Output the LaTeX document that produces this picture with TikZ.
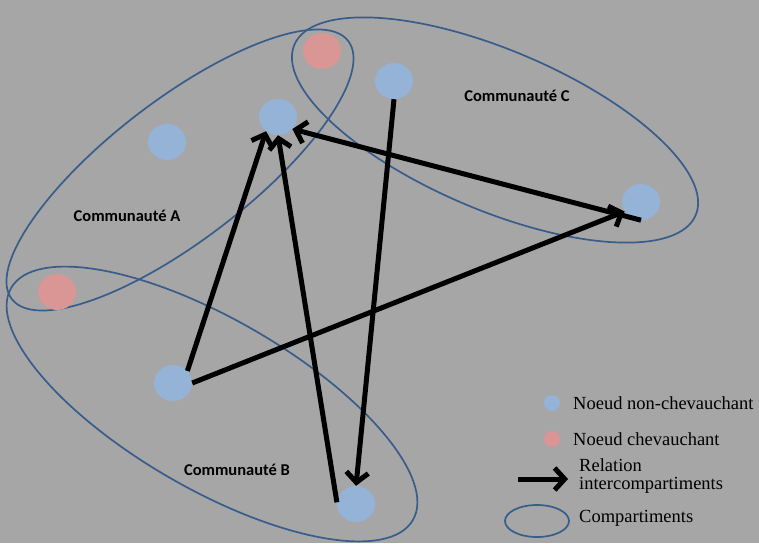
\documentclass[tikz,border=0pt]{standalone}
\usepackage{fontspec}
\setmainfont{Liberation Serif}
\newfontfamily\calib{Carlito}
\usetikzlibrary{arrows.meta,shapes.geometric}
\definecolor{fond}{HTML}{A6A6A6}
\definecolor{bleu}{HTML}{95B3D7}
\definecolor{rouge}{HTML}{D99694}
\definecolor{trait}{HTML}{385D8A}
\begin{document}
\begin{tikzpicture}[x=1pt,y=-1pt,line join=miter,
    noeud/.style={ellipse,fill=bleu,minimum width=38pt,minimum height=36pt,inner sep=0pt},
    chev/.style={noeud,fill=rouge},
    rel/.style={line width=5pt,-{Straight Barb[length=10pt,width=22pt]}},
    compart/.style={draw=trait,line width=1.7pt},
    comm/.style={font=\calib\bfseries\fontsize{16.5}{18}\selectfont},
    leg/.style={anchor=west,inner sep=0pt,font=\fontsize{18.5}{16}\selectfont}]
  \fill[fond] (0,0) rectangle (759,543);
  \useasboundingbox (0,0) rectangle (759,543);
  % compartiments
  \draw[compart,rotate around={37.5:(180,170)}] (180,170) ellipse (212 and 70);
  \draw[compart,rotate around={-30:(212,404)}] (212,404) ellipse (232 and 85);
  \draw[compart,rotate around={-23:(495,130)}] (495,130) ellipse (218 and 80);
  % noeuds
  \node[noeud] (a1) at (167,142) {};
  \node[noeud] (a2) at (278,117) {};
  \node[chev]  (ac) at (322,51) {};
  \node[noeud] (c1) at (394,81) {};
  \node[noeud] (c2) at (641,202) {};
  \node[chev]  (ab) at (57,292) {};
  \node[noeud] (b1) at (173,383) {};
  \node[noeud] (b2) at (356,504) {};
  \node[comm] (lA) at (127,216) {Communauté A};
  \node[comm] (lB) at (237,470) {Communauté B};
  \node[comm] (lC) at (517,96) {Communauté C};
  % relations
  \draw[rel] (b1.40) -- (a2.230);
  \draw[rel] (b2.175) -- (a2.south);
  \draw[rel] (c2.south) -- (a2.320);
  \draw[rel] (b1.east) -- (c2.210);
  \draw[rel] (c1.south) -- (b2.north);
  % legende
  \node[noeud,minimum width=16pt,minimum height=16pt] (lg1) at (552,403) {};
  \node[leg] (t1) at (573,403) {Noeud non-chevauchant};
  \node[chev,minimum width=16pt,minimum height=16pt] (lg2) at (552,439) {};
  \node[leg] (t2) at (573,439) {Noeud chevauchant};
  \coordinate (f1) at (518,479);
  \coordinate (f2) at (568,479);
  \draw[rel] (f1) -- (f2);
  \node[leg,anchor=base west] (t3) at (579,471) {Relation};
  \node[leg,anchor=base west] (t3b) at (579,489) {intercompartiments};
  \node[compart,ellipse,minimum width=64pt,minimum height=32pt,inner sep=0pt] (lg4) at (537,521) {};
  \node[leg] (t4) at (579,518) {Compartiments};
\end{tikzpicture}
\end{document}
